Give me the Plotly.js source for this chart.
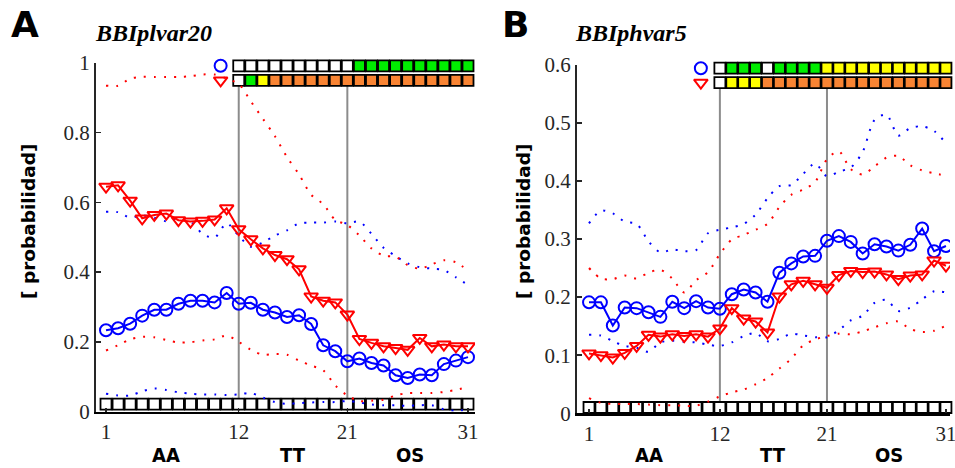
<!DOCTYPE html>
<html><head><meta charset="utf-8">
<script src="https://cdn.plot.ly/plotly-3.0.1.min.js"></script>
<style>html,body{margin:0;padding:0;background:#fff;} #chart{width:955px;height:468px;}</style>
</head><body><div id="chart"></div>
<script>
// ---------- DATA ----------
const xIdx = [1,2,3,4,5,6,7,8,9,10,11,12,13,14,15,16,17,18,19,20,21,22,23,24,25,26,27,28,29,30,31];
const xTicks = [1,12,21,31];
const dividers = [12,21];
const groupLabels = ['AA','TT','OS'];
const groupCenters = [6,16.5,26.2];

// Panel A: BBIplvar20
const aCircle = [0.233,0.239,0.252,0.275,0.292,0.292,0.309,0.318,0.318,0.313,0.340,0.309,0.312,0.292,0.284,0.271,0.276,0.251,0.190,0.173,0.144,0.152,0.139,0.132,0.104,0.096,0.106,0.104,0.136,0.146,0.156];
const aTriangle = [0.645,0.649,0.605,0.554,0.564,0.568,0.549,0.545,0.547,0.551,0.583,0.523,0.494,0.468,0.449,0.437,0.408,0.330,0.318,0.313,0.278,0.208,0.197,0.187,0.182,0.177,0.211,0.187,0.192,0.187,0.187];
const aCircleUpper = [0.573,0.572,0.556,0.563,0.556,0.546,0.555,0.545,0.510,0.499,0.540,0.504,0.473,0.485,0.505,0.520,0.540,0.542,0.542,0.545,0.540,0.545,0.510,0.470,0.446,0.425,0.414,0.410,0.406,0.385,0.363];
const aCircleLower = [0.051,0.046,0.046,0.058,0.066,0.062,0.055,0.051,0.049,0.049,0.047,0.049,0.053,0.040,0.027,0.022,0.024,0.026,0.027,0.027,0.030,0.026,0.020,0.018,0.018,0.016,0.018,0.018,0.006,0.002,0.006];
const aTriUpper = [0.935,0.935,0.955,0.960,0.960,0.960,0.960,0.962,0.967,0.967,0.955,0.940,0.890,0.840,0.790,0.730,0.680,0.622,0.595,0.550,0.535,0.505,0.468,0.447,0.444,0.420,0.410,0.422,0.434,0.428,0.404];
const aTriLower = [0.175,0.190,0.207,0.214,0.213,0.205,0.198,0.199,0.204,0.207,0.218,0.200,0.177,0.163,0.165,0.163,0.146,0.132,0.118,0.075,0.046,0.030,0.031,0.034,0.046,0.053,0.053,0.053,0.056,0.062,0.070];

// Panel B: BBIphvar5
const bCircle = [0.191,0.191,0.151,0.182,0.181,0.174,0.166,0.192,0.181,0.193,0.182,0.180,0.205,0.213,0.208,0.192,0.242,0.258,0.270,0.271,0.297,0.305,0.295,0.275,0.291,0.287,0.280,0.290,0.318,0.279,0.288];
const bTriangle = [0.103,0.100,0.096,0.104,0.116,0.135,0.132,0.136,0.133,0.136,0.132,0.146,0.181,0.163,0.158,0.139,0.201,0.222,0.228,0.222,0.216,0.238,0.245,0.243,0.244,0.239,0.231,0.237,0.239,0.263,0.254];
const bCircleUpper = [0.327,0.349,0.344,0.330,0.326,0.296,0.277,0.282,0.279,0.281,0.310,0.316,0.320,0.326,0.342,0.370,0.391,0.393,0.412,0.430,0.408,0.416,0.423,0.450,0.505,0.514,0.478,0.491,0.494,0.486,0.465];
const bCircleLower = [0.135,0.134,0.124,0.116,0.113,0.106,0.122,0.125,0.123,0.122,0.118,0.116,0.122,0.133,0.138,0.124,0.128,0.137,0.134,0.131,0.131,0.143,0.160,0.168,0.190,0.195,0.176,0.182,0.196,0.210,0.208];
const bTriUpper = [0.250,0.232,0.231,0.237,0.232,0.242,0.247,0.232,0.208,0.229,0.243,0.274,0.299,0.307,0.316,0.326,0.355,0.376,0.385,0.398,0.437,0.451,0.420,0.411,0.425,0.440,0.443,0.427,0.418,0.413,0.409];
const bTriLower = [0.026,0.018,0.016,0.016,0.016,0.015,0.014,0.014,0.013,0.013,0.020,0.029,0.036,0.041,0.050,0.061,0.077,0.094,0.117,0.127,0.133,0.137,0.136,0.141,0.148,0.155,0.158,0.145,0.140,0.142,0.151];

// status squares (x = 12..31): w=white, g=green, y=yellow, o=orange
const topIdx = [12,13,14,15,16,17,18,19,20,21,22,23,24,25,26,27,28,29,30,31];
const aTopCircle = ['w','w','w','w','w','w','w','w','w','w','g','g','g','g','g','g','g','g','g','g'];
const aTopTri    = ['w','g','y','o','o','o','o','o','o','o','o','o','o','o','o','o','o','o','o','o'];
const bTopCircle = ['w','g','g','g','w','g','g','g','g','y','y','y','y','y','y','y','y','y','y','y'];
const bTopTri    = ['w','y','y','y','o','o','o','o','o','o','o','o','o','o','o','o','o','o','o','o'];

// ---------- STYLE ----------
const stateColor = {w:'#ffffff', g:'#00ee00', y:'#ffff00', o:'#f98433'};
const BLUE = '#0000ff', RED = '#ff0000';
const serif = "'Liberation Serif', 'Times New Roman', Times, serif";
const SQ = 11, SQW = 1.8;

function panel(xa, ya, circ, tri, cu, cl, tu, tl, topC, topT, rowC, rowT, bottomY, legX) {
  const tr = [];
  tr.push({x: xIdx, y: xIdx.map(()=>bottomY), xaxis: xa, yaxis: ya, mode: 'markers', cliponaxis: false,
    marker: {symbol: 'square', size: SQ, color: '#fff', line: {color: '#000', width: SQW}}, hoverinfo: 'skip'});
  tr.push({x: topIdx, y: topIdx.map(()=>rowC), xaxis: xa, yaxis: ya, mode: 'markers', cliponaxis: false,
    marker: {symbol: 'square', size: SQ, color: topC.map(s=>stateColor[s]), line: {color: '#000', width: SQW}}, hoverinfo: 'skip'});
  tr.push({x: topIdx, y: topIdx.map(()=>rowT), xaxis: xa, yaxis: ya, mode: 'markers', cliponaxis: false,
    marker: {symbol: 'square', size: SQ, color: topT.map(s=>stateColor[s]), line: {color: '#000', width: SQW}}, hoverinfo: 'skip'});
  [[cu, BLUE],[cl, BLUE],[tu, RED],[tl, RED]].forEach(([d,c])=>{
    tr.push({x: xIdx, y: d, xaxis: xa, yaxis: ya, mode: 'lines', cliponaxis: false,
      line: {color: c, width: 2, dash: '2px,8px', shape: 'spline', smoothing: 0.8}, hoverinfo: 'skip'});
  });
  tr.push({x: xIdx, y: circ, xaxis: xa, yaxis: ya, mode: 'lines+markers',
    line: {color: BLUE, width: 2}, marker: {symbol: 'circle-open', size: 12, color: BLUE, line: {width: 2, color: BLUE}}});
  tr.push({x: xIdx, y: tri, xaxis: xa, yaxis: ya, mode: 'lines+markers',
    line: {color: RED, width: 2}, marker: {symbol: 'triangle-down-open', size: 12, color: RED, line: {width: 2, color: RED}}});
  tr.push({x: [legX], y: [rowC], xaxis: xa, yaxis: ya, mode: 'markers', cliponaxis: false,
    marker: {symbol: 'circle-open', size: 12, color: BLUE, line: {width: 2, color: BLUE}}});
  tr.push({x: [legX], y: [rowT], xaxis: xa, yaxis: ya, mode: 'markers', cliponaxis: false,
    marker: {symbol: 'triangle-down-open', size: 12, color: RED, line: {width: 2, color: RED}}});
  return tr;
}

const traces = [].concat(
  panel('x','y', aCircle, aTriangle, aCircleUpper, aCircleLower, aTriUpper, aTriLower, aTopCircle, aTopTri, 0.992, 0.950, 0.021, 10.5),
  panel('x2','y2', bCircle, bTriangle, bCircleUpper, bCircleLower, bTriUpper, bTriLower, bTopCircle, bTopTri, 0.594, 0.569, 0.010, 10.4)
);

const xCommon = {tickvals: xTicks, ticktext: xTicks.map(String), ticks: 'inside', ticklen: 4, tickwidth: 1.5, tickcolor: '#262626',
  showline: true, linecolor: '#000', linewidth: 2.5, zeroline: false, showgrid: false, ticklabeloverflow: 'allow',
  tickfont: {family: serif, size: 21, color: '#262626'}};
const yCommon = {ticks: 'inside', ticklen: 5, tickwidth: 1.5, tickcolor: '#262626',
  showline: true, linecolor: '#262626', linewidth: 2, zeroline: false, showgrid: false,
  tickfont: {family: serif, size: 21, color: '#262626'}};

const aYTicks = [0,0.2,0.4,0.6,0.8,1];
const bYTicks = [0,0.1,0.2,0.3,0.4,0.5,0.6];

const shapes = [];
dividers.forEach(d=>{
  shapes.push({type:'line', xref:'x', yref:'y', x0:d, x1:d, y0:0, y1:0.95, layer:'below', line:{color:'#8c8c8c', width:2}});
  shapes.push({type:'line', xref:'x2', yref:'y2', x0:d, x1:d, y0:0, y1:0.569, layer:'below', line:{color:'#8c8c8c', width:2}});
});

const annotations = [];
groupLabels.forEach((g,i)=>{
  ['x','x2'].forEach(xr=>annotations.push({text: '<b>'+g+'</b>', xref: xr, yref: 'paper', x: groupCenters[i], y: (468-455)/468,
    showarrow: false, xanchor: 'center', yanchor: 'middle',
    font: {family: "'DejaVu Sans Condensed', 'Liberation Sans Narrow', 'DejaVu Sans', sans-serif", size: 20, color: '#000'}}));
});
[['A', 25, 24], ['B', 515, 24]].forEach(([t,px,py])=>annotations.push({text: '<b>'+t+'</b>', xref:'paper', yref:'paper',
  x: px/955, y: (468-py)/468, showarrow:false, xanchor:'center', yanchor:'middle',
  font:{family:"'DejaVu Sans', Arial, sans-serif", size: 36, color:'#000'}}));
[['BBIplvar20', 153, 33], ['BBIphvar5', 631, 33]].forEach(([t,px,py])=>annotations.push({text: '<b><i>'+t+'</i></b>', xref:'paper', yref:'paper',
  x: px/955, y: (468-py)/468, showarrow:false, xanchor:'center', yanchor:'middle',
  font:{family: serif, size: 24, color:'#000'}}));
[[28],[523]].forEach(([px])=>annotations.push({text:'<b>[ probabilidad]</b>', xref:'paper', yref:'paper',
  x: px/955, y: (468-222)/468, showarrow:false, textangle:-90, xanchor:'center', yanchor:'middle',
  font:{family:"'DejaVu Sans', Arial, sans-serif", size: 18.5, color:'#000'}}));

const layout = {
  width: 955, height: 468, margin: {l:0, r:0, t:0, b:0}, showlegend: false,
  paper_bgcolor: '#fff', plot_bgcolor: '#fff',
  xaxis: Object.assign({}, xCommon, {domain: [96/955, 475/955], range: [0.17, 31.58], anchor: 'y'}),
  yaxis: Object.assign({}, yCommon, {domain: [(468-411.5)/468, (468-63)/468], range: [0,1], tickvals: aYTicks, ticktext: aYTicks.map(String), anchor: 'x'}),
  xaxis2: Object.assign({}, xCommon, {domain: [577/955, 950/955], range: [-0.01, 31.34], anchor: 'y2'}),
  yaxis2: Object.assign({}, yCommon, {domain: [(468-413.3)/468, (468-64.7)/468], range: [0,0.6], tickvals: bYTicks, ticktext: bYTicks.map(String), anchor: 'x2'}),
  shapes: shapes, annotations: annotations
};
Plotly.newPlot('chart', traces, layout, {displayModeBar: false, staticPlot: true});
</script></body></html>
